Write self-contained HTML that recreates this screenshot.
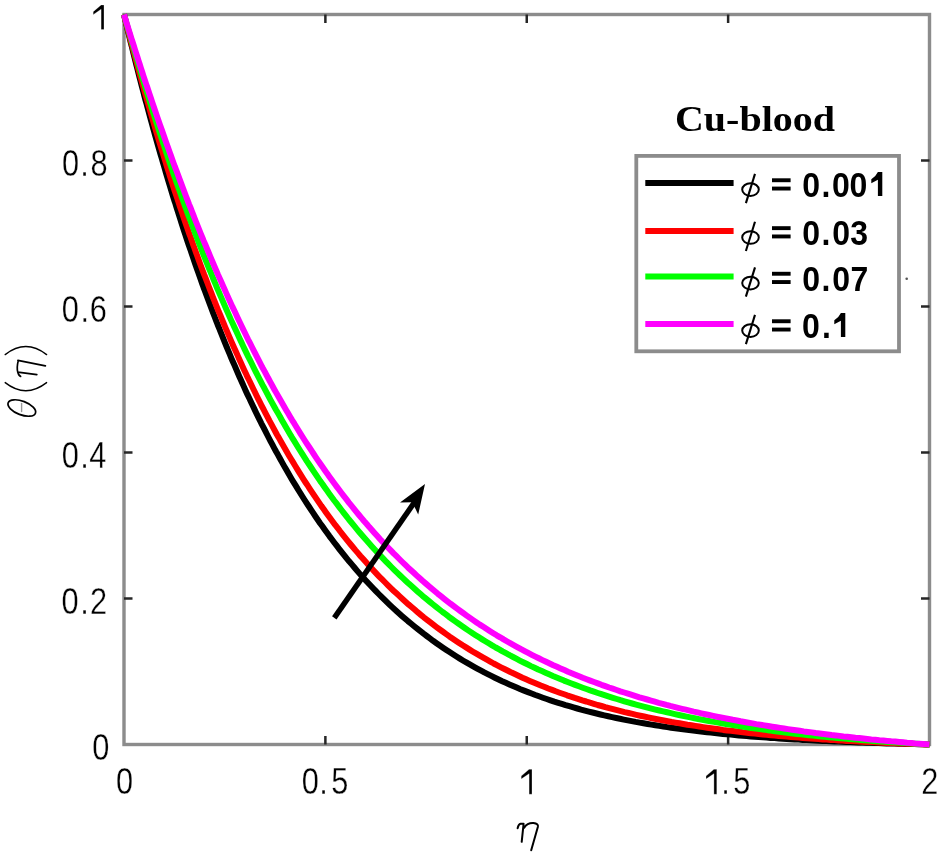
<!DOCTYPE html>
<html><head><meta charset="utf-8"><style>
html,body{margin:0;padding:0;background:#fff;}
body{width:944px;height:858px;overflow:hidden;}
svg{display:block;will-change:transform;}
text{font-family:"Liberation Sans",sans-serif;}
.tl{font-size:32px;fill:#000;stroke:#fff;stroke-width:0.3px;paint-order:fill;}
.phi{font-family:"Liberation Serif",serif;font-style:italic;font-size:34px;fill:#000;}
.lv{font-family:"Liberation Sans",sans-serif;font-weight:bold;font-size:32px;fill:#000;}
.ttl{font-family:"Liberation Serif",serif;font-weight:bold;font-size:36px;fill:#000;}
.lab{font-family:"Liberation Serif",serif;font-style:italic;font-size:42px;fill:#000;}
.labr{font-family:"Liberation Serif",serif;font-size:42px;fill:#000;}
</style></head><body>
<svg width="944" height="858" viewBox="0 0 944 858">
<rect width="944" height="858" fill="#fff"/>
<rect x="124.0" y="14.5" width="805.5" height="730.0" fill="none" stroke="#8c8c8c" stroke-width="3.4"/>
<g stroke="#262626" stroke-width="2.5"><line x1="325.38" y1="744.5" x2="325.38" y2="736.0"/><line x1="325.38" y1="14.5" x2="325.38" y2="23.0"/><line x1="526.75" y1="744.5" x2="526.75" y2="736.0"/><line x1="526.75" y1="14.5" x2="526.75" y2="23.0"/><line x1="728.12" y1="744.5" x2="728.12" y2="736.0"/><line x1="728.12" y1="14.5" x2="728.12" y2="23.0"/><line x1="124.0" y1="598.5" x2="132.5" y2="598.5"/><line x1="929.5" y1="598.5" x2="921.0" y2="598.5"/><line x1="124.0" y1="452.5" x2="132.5" y2="452.5"/><line x1="929.5" y1="452.5" x2="921.0" y2="452.5"/><line x1="124.0" y1="306.5" x2="132.5" y2="306.5"/><line x1="929.5" y1="306.5" x2="921.0" y2="306.5"/><line x1="124.0" y1="160.5" x2="132.5" y2="160.5"/><line x1="929.5" y1="160.5" x2="921.0" y2="160.5"/></g>
<g fill="none" stroke-width="6" stroke-linejoin="round" stroke-linecap="butt"><path d="M124.0,14.5 L125.0,18.7 L126.0,22.9 L126.8,26.3 L127.8,30.5 L128.8,34.6 L129.6,37.9 L130.6,42.0 L131.7,46.1 L132.7,50.2 L133.5,53.4 L134.5,57.4 L135.5,61.4 L136.5,65.4 L137.5,69.3 L138.5,73.3 L139.5,77.2 L140.5,81.1 L141.5,85.0 L142.5,88.8 L143.5,92.6 L144.5,96.5 L145.5,100.2 L146.6,104.0 L147.6,107.8 L148.6,111.5 L149.8,115.9 L150.8,119.6 L151.8,123.3 L152.8,126.9 L154.0,131.3 L155.0,134.9 L156.0,138.5 L157.2,142.7 L158.2,146.3 L159.4,150.5 L160.4,154.0 L161.7,158.2 L162.7,161.6 L163.9,165.8 L164.9,169.2 L166.1,173.3 L167.3,177.3 L168.5,181.3 L169.5,184.7 L170.7,188.6 L171.9,192.6 L173.1,196.5 L174.3,200.4 L175.4,203.6 L176.6,207.5 L177.8,211.3 L179.0,215.1 L180.2,218.9 L181.6,223.3 L182.8,227.0 L184.0,230.7 L185.2,234.4 L186.4,238.0 L187.8,242.2 L189.0,245.8 L190.3,249.4 L191.7,253.6 L192.9,257.1 L194.3,261.2 L195.5,264.7 L196.9,268.7 L198.1,272.1 L199.5,276.1 L200.9,280.0 L202.1,283.4 L203.5,287.3 L205.0,291.1 L206.4,294.9 L207.8,298.7 L209.2,302.5 L210.6,306.2 L212.0,310.0 L213.4,313.6 L214.8,317.3 L216.2,320.9 L217.6,324.5 L219.3,328.6 L220.7,332.1 L222.1,335.6 L223.7,339.6 L225.1,343.1 L226.7,347.0 L228.1,350.4 L229.7,354.2 L231.3,358.1 L232.9,361.8 L234.4,365.1 L236.0,368.8 L237.6,372.5 L239.2,376.2 L240.8,379.8 L242.6,383.8 L244.2,387.4 L245.8,390.9 L247.4,394.4 L249.3,398.3 L250.9,401.7 L252.7,405.5 L254.3,408.9 L256.1,412.7 L257.9,416.4 L259.5,419.6 L261.3,423.3 L263.2,426.9 L265.0,430.4 L266.8,434.0 L268.6,437.5 L270.6,441.3 L272.4,444.7 L274.2,448.1 L276.2,451.8 L278.1,455.1 L280.1,458.8 L282.1,462.4 L283.9,465.6 L285.9,469.1 L287.9,472.6 L289.9,476.0 L291.9,479.4 L294.0,482.8 L296.2,486.4 L298.2,489.7 L300.4,493.3 L302.4,496.5 L304.6,500.0 L306.8,503.4 L308.9,506.5 L311.1,509.9 L313.3,513.2 L315.5,516.5 L317.9,520.0 L320.1,523.2 L322.4,526.3 L324.8,529.7 L327.2,533.0 L329.4,536.1 L331.8,539.3 L334.2,542.5 L336.7,545.7 L339.1,548.8 L341.7,552.1 L344.1,555.1 L346.7,558.4 L349.1,561.3 L351.8,564.4 L354.4,567.5 L357.0,570.6 L359.6,573.6 L362.2,576.5 L364.8,579.4 L367.7,582.5 L370.3,585.3 L373.1,588.3 L375.9,591.2 L378.7,594.0 L381.6,596.9 L384.4,599.7 L387.2,602.4 L390.0,605.1 L393.0,607.9 L396.1,610.7 L398.9,613.2 L401.9,615.9 L404.9,618.5 L407.9,621.1 L411.2,623.8 L414.2,626.3 L417.2,628.7 L420.4,631.2 L423.6,633.7 L426.7,636.0 L429.9,638.4 L433.1,640.8 L436.5,643.2 L439.8,645.5 L443.0,647.7 L446.4,650.0 L449.6,652.1 L453.0,654.3 L456.5,656.5 L459.9,658.6 L463.3,660.7 L466.7,662.7 L470.2,664.7 L473.6,666.6 L477.2,668.6 L480.6,670.4 L484.3,672.4 L487.7,674.1 L491.3,675.9 L494.9,677.7 L498.6,679.5 L502.2,681.2 L505.8,682.8 L509.4,684.4 L513.1,686.0 L516.7,687.6 L520.5,689.2 L524.1,690.6 L528.0,692.1 L531.6,693.5 L535.4,695.0 L539.0,696.3 L542.9,697.7 L546.7,699.0 L550.5,700.3 L554.3,701.6 L558.2,702.8 L561.8,703.9 L565.6,705.1 L569.4,706.2 L573.5,707.4 L577.3,708.5 L581.1,709.6 L584.9,710.6 L588.8,711.6 L592.6,712.5 L596.6,713.5 L600.5,714.5 L604.3,715.4 L608.3,716.3 L612.1,717.1 L616.2,718.0 L620.0,718.8 L623.8,719.6 L627.8,720.4 L631.7,721.1 L635.7,721.9 L639.7,722.6 L643.5,723.3 L647.6,724.0 L651.4,724.6 L655.4,725.3 L659.3,725.9 L663.3,726.5 L667.3,727.1 L671.1,727.7 L675.2,728.2 L679.2,728.8 L683.0,729.3 L687.0,729.8 L691.1,730.3 L695.1,730.8 L698.9,731.3 L703.0,731.8 L707.0,732.2 L710.8,732.6 L714.8,733.1 L718.9,733.5 L722.9,733.9 L726.9,734.3 L730.7,734.6 L734.8,735.0 L738.8,735.4 L742.8,735.7 L746.7,736.0 L750.7,736.4 L754.7,736.7 L758.7,737.0 L762.8,737.3 L766.6,737.6 L770.6,737.9 L774.6,738.1 L778.7,738.4 L782.7,738.7 L786.7,738.9 L790.6,739.2 L794.6,739.4 L798.6,739.6 L802.6,739.9 L806.7,740.1 L810.7,740.3 L814.5,740.5 L818.5,740.7 L822.6,740.9 L826.6,741.1 L830.6,741.3 L834.7,741.5 L838.5,741.6 L842.5,741.8 L846.5,742.0 L850.6,742.1 L854.6,742.3 L858.6,742.4 L862.6,742.6 L866.5,742.7 L870.5,742.8 L874.5,743.0 L878.6,743.1 L882.6,743.2 L886.6,743.4 L890.6,743.5 L894.5,743.6 L898.5,743.7 L902.5,743.8 L906.5,743.9 L910.6,744.0 L914.6,744.1 L918.4,744.2 L922.5,744.3 L926.5,744.4 L929.5,744.5" stroke="#000"/><path d="M124.0,14.5 L125.0,18.4 L126.0,22.4 L127.0,26.3 L128.0,30.2 L129.0,34.0 L130.0,37.9 L131.0,41.7 L132.1,45.5 L133.3,50.0 L134.3,53.8 L135.3,57.6 L136.3,61.3 L137.3,65.0 L138.3,68.7 L139.5,73.1 L140.5,76.8 L141.5,80.4 L142.7,84.7 L143.7,88.3 L144.7,91.9 L145.9,96.2 L147.0,99.7 L148.2,104.0 L149.2,107.5 L150.4,111.7 L151.4,115.1 L152.6,119.3 L153.6,122.7 L154.8,126.8 L156.0,130.8 L157.0,134.2 L158.2,138.2 L159.4,142.2 L160.4,145.5 L161.7,149.5 L162.9,153.4 L164.1,157.3 L165.3,161.2 L166.5,165.1 L167.7,168.9 L168.9,172.7 L170.1,176.5 L171.3,180.3 L172.5,184.0 L173.7,187.8 L174.9,191.5 L176.2,195.2 L177.6,199.4 L178.8,203.1 L180.0,206.7 L181.4,210.8 L182.6,214.4 L183.8,218.0 L185.2,222.1 L186.4,225.6 L187.8,229.6 L189.0,233.1 L190.5,237.0 L191.9,241.0 L193.1,244.4 L194.5,248.3 L195.9,252.2 L197.3,256.1 L198.5,259.4 L199.9,263.2 L201.3,267.0 L202.7,270.7 L204.1,274.4 L205.6,278.1 L207.0,281.8 L208.6,286.0 L210.0,289.6 L211.4,293.2 L212.8,296.8 L214.4,300.8 L215.8,304.3 L217.2,307.8 L218.8,311.8 L220.3,315.2 L221.9,319.1 L223.5,323.0 L224.9,326.3 L226.5,330.1 L228.1,333.9 L229.7,337.6 L231.3,341.4 L232.9,345.0 L234.6,348.7 L236.2,352.3 L237.8,355.9 L239.4,359.5 L241.0,363.0 L242.8,366.9 L244.4,370.4 L246.0,373.8 L247.8,377.7 L249.5,381.0 L251.3,384.8 L253.1,388.5 L254.7,391.8 L256.5,395.5 L258.3,399.1 L260.1,402.7 L261.9,406.3 L263.8,409.8 L265.6,413.3 L267.6,417.1 L269.4,420.6 L271.2,423.9 L273.2,427.7 L275.0,431.0 L277.0,434.7 L278.9,437.9 L280.9,441.5 L282.9,445.0 L284.9,448.5 L286.9,452.0 L288.9,455.4 L290.9,458.8 L293.0,462.2 L295.0,465.5 L297.2,469.1 L299.2,472.4 L301.4,475.9 L303.4,479.1 L305.6,482.5 L307.9,485.9 L310.1,489.3 L312.3,492.6 L314.5,495.9 L316.7,499.2 L318.9,502.4 L321.3,505.9 L323.6,509.0 L326.0,512.4 L328.4,515.7 L330.6,518.7 L333.0,522.0 L335.4,525.2 L337.9,528.3 L340.3,531.5 L342.9,534.8 L345.3,537.8 L347.7,540.8 L350.3,544.0 L353.0,547.2 L355.4,550.1 L358.0,553.1 L360.6,556.2 L363.2,559.1 L366.1,562.3 L368.7,565.2 L371.3,568.1 L374.1,571.1 L376.9,574.1 L379.5,576.8 L382.4,579.7 L385.2,582.5 L388.0,585.3 L390.8,588.1 L393.8,591.0 L396.7,593.6 L399.7,596.4 L402.5,599.0 L405.5,601.7 L408.5,604.4 L411.6,607.0 L414.6,609.6 L417.6,612.2 L420.8,614.8 L423.8,617.3 L427.1,619.8 L430.1,622.2 L433.3,624.7 L436.5,627.1 L439.8,629.5 L443.0,631.8 L446.2,634.1 L449.4,636.4 L452.8,638.7 L456.1,640.9 L459.5,643.2 L462.7,645.3 L466.1,647.4 L469.6,649.6 L473.0,651.7 L476.4,653.7 L479.8,655.7 L483.3,657.7 L486.9,659.7 L490.3,661.6 L493.7,663.5 L497.3,665.4 L501.0,667.3 L504.4,669.0 L508.0,670.8 L511.6,672.6 L515.3,674.3 L518.9,676.0 L522.5,677.7 L526.1,679.3 L529.8,680.9 L533.6,682.5 L537.2,684.0 L540.8,685.5 L544.7,687.0 L548.3,688.5 L552.1,689.9 L555.7,691.3 L559.6,692.7 L563.4,694.0 L567.0,695.3 L570.9,696.6 L574.7,697.9 L578.5,699.1 L582.3,700.4 L586.2,701.5 L590.0,702.7 L593.8,703.8 L597.6,705.0 L601.5,706.0 L605.3,707.1 L609.1,708.1 L613.1,709.2 L617.0,710.2 L620.8,711.1 L624.6,712.1 L628.6,713.0 L632.5,713.9 L636.3,714.8 L640.3,715.7 L644.2,716.5 L648.2,717.4 L652.0,718.2 L656.0,719.0 L659.9,719.7 L663.9,720.5 L667.7,721.2 L671.7,722.0 L675.6,722.6 L679.6,723.3 L683.4,724.0 L687.4,724.7 L691.5,725.3 L695.3,725.9 L699.3,726.5 L703.2,727.1 L707.2,727.7 L711.2,728.3 L715.0,728.8 L719.1,729.3 L723.1,729.9 L727.1,730.4 L730.9,730.8 L735.0,731.3 L739.0,731.8 L742.8,732.3 L746.9,732.7 L750.9,733.2 L754.9,733.6 L758.7,734.0 L762.8,734.4 L766.8,734.8 L770.8,735.2 L774.6,735.5 L778.7,735.9 L782.7,736.3 L786.7,736.6 L790.8,737.0 L794.6,737.3 L798.6,737.6 L802.6,737.9 L806.7,738.2 L810.7,738.5 L814.5,738.8 L818.5,739.1 L822.6,739.4 L826.6,739.6 L830.6,739.9 L834.7,740.1 L838.5,740.4 L842.5,740.6 L846.5,740.9 L850.6,741.1 L854.6,741.3 L858.6,741.5 L862.4,741.7 L866.5,741.9 L870.5,742.1 L874.5,742.3 L878.6,742.5 L882.6,742.7 L886.4,742.9 L890.4,743.0 L894.5,743.2 L898.5,743.4 L902.5,743.5 L906.5,743.7 L910.6,743.8 L914.4,744.0 L918.4,744.1 L922.5,744.3 L926.5,744.4 L929.5,744.5" stroke="#f00"/><path d="M124.0,14.5 L125.2,18.8 L126.2,22.3 L127.4,26.6 L128.4,30.1 L129.6,34.3 L130.6,37.8 L131.9,42.0 L132.9,45.5 L134.1,49.6 L135.1,53.0 L136.3,57.1 L137.5,61.2 L138.5,64.6 L139.7,68.6 L140.9,72.6 L141.9,76.0 L143.1,80.0 L144.3,83.9 L145.5,87.9 L146.8,91.8 L148.0,95.7 L149.0,98.9 L150.2,102.8 L151.4,106.6 L152.6,110.5 L153.8,114.3 L155.0,118.1 L156.2,121.8 L157.6,126.2 L158.8,129.9 L160.0,133.6 L161.3,137.3 L162.5,141.0 L163.7,144.6 L165.1,148.9 L166.3,152.5 L167.5,156.1 L168.9,160.2 L170.1,163.8 L171.5,167.9 L172.7,171.4 L174.1,175.5 L175.4,178.9 L176.8,182.9 L178.0,186.4 L179.4,190.3 L180.8,194.3 L182.0,197.7 L183.4,201.6 L184.8,205.4 L186.2,209.3 L187.4,212.6 L188.8,216.4 L190.3,220.2 L191.7,223.9 L193.1,227.7 L194.5,231.4 L195.9,235.1 L197.3,238.8 L198.9,242.9 L200.3,246.5 L201.7,250.1 L203.1,253.7 L204.8,257.8 L206.2,261.3 L207.6,264.8 L209.2,268.8 L210.6,272.2 L212.2,276.1 L213.8,280.0 L215.2,283.4 L216.8,287.3 L218.4,291.1 L219.9,294.4 L221.5,298.1 L223.1,301.9 L224.7,305.6 L226.3,309.2 L227.9,312.9 L229.5,316.5 L231.1,320.1 L232.7,323.6 L234.6,327.6 L236.2,331.1 L237.8,334.6 L239.6,338.5 L241.2,341.9 L243.0,345.7 L244.6,349.1 L246.4,352.9 L248.2,356.6 L249.9,359.9 L251.7,363.5 L253.5,367.2 L255.3,370.8 L257.1,374.4 L258.9,377.9 L260.7,381.4 L262.5,384.9 L264.4,388.3 L266.4,392.1 L268.2,395.5 L270.2,399.3 L272.0,402.6 L274.0,406.2 L275.8,409.5 L277.9,413.1 L279.9,416.6 L281.9,420.2 L283.7,423.3 L285.7,426.8 L287.9,430.5 L289.9,433.9 L291.9,437.3 L294.0,440.6 L296.2,444.2 L298.2,447.5 L300.4,451.0 L302.4,454.2 L304.6,457.6 L306.8,461.1 L309.1,464.5 L311.1,467.5 L313.5,471.1 L315.7,474.4 L317.9,477.7 L320.1,480.9 L322.4,484.0 L324.8,487.5 L327.0,490.6 L329.4,493.9 L331.8,497.2 L334.2,500.5 L336.7,503.7 L339.1,506.9 L341.5,510.0 L343.9,513.1 L346.3,516.2 L348.9,519.5 L351.4,522.5 L354.0,525.7 L356.4,528.6 L359.0,531.7 L361.6,534.8 L364.2,537.8 L366.9,540.8 L369.5,543.7 L372.1,546.7 L374.9,549.8 L377.5,552.6 L380.4,555.6 L383.0,558.4 L385.8,561.3 L388.6,564.2 L391.4,567.0 L394.2,569.8 L397.1,572.6 L400.1,575.5 L402.9,578.2 L405.9,581.0 L408.7,583.6 L411.8,586.3 L414.8,589.0 L417.8,591.7 L420.8,594.3 L423.8,596.9 L426.9,599.4 L429.9,601.9 L433.1,604.5 L436.1,606.9 L439.4,609.5 L442.6,612.0 L445.6,614.2 L448.8,616.7 L452.0,619.0 L455.3,621.4 L458.7,623.8 L461.9,626.0 L465.1,628.2 L468.6,630.6 L471.8,632.7 L475.2,634.9 L478.6,637.1 L481.8,639.1 L485.3,641.2 L488.7,643.3 L492.1,645.4 L495.7,647.5 L499.2,649.4 L502.6,651.4 L506.0,653.2 L509.6,655.2 L513.1,657.0 L516.7,658.9 L520.3,660.8 L523.7,662.5 L527.4,664.3 L531.0,666.1 L534.6,667.8 L538.2,669.5 L541.9,671.1 L545.5,672.7 L549.1,674.3 L552.9,676.0 L556.6,677.5 L560.2,679.0 L564.0,680.6 L567.6,682.0 L571.5,683.5 L575.1,684.9 L578.9,686.3 L582.7,687.7 L586.4,689.0 L590.2,690.4 L594.0,691.7 L597.8,693.0 L601.5,694.2 L605.3,695.4 L609.1,696.6 L612.9,697.8 L616.8,699.0 L620.6,700.2 L624.4,701.3 L628.2,702.4 L632.1,703.5 L636.1,704.6 L639.9,705.6 L643.7,706.6 L647.6,707.6 L651.4,708.6 L655.4,709.6 L659.3,710.5 L663.1,711.4 L667.1,712.3 L670.9,713.2 L674.8,714.1 L678.8,715.0 L682.6,715.8 L686.6,716.6 L690.5,717.4 L694.5,718.2 L698.3,719.0 L702.3,719.7 L706.2,720.5 L710.2,721.2 L714.0,721.9 L718.1,722.6 L721.9,723.3 L725.9,724.0 L729.9,724.6 L733.8,725.2 L737.8,725.9 L741.6,726.5 L745.6,727.1 L749.7,727.7 L753.5,728.3 L757.5,728.8 L761.6,729.4 L765.4,729.9 L769.4,730.4 L773.4,731.0 L777.3,731.5 L781.3,732.0 L785.3,732.5 L789.3,732.9 L793.2,733.4 L797.2,733.9 L801.2,734.3 L805.3,734.8 L809.1,735.2 L813.1,735.6 L817.1,736.0 L821.2,736.4 L825.0,736.8 L829.0,737.2 L833.0,737.6 L837.1,737.9 L840.9,738.3 L844.9,738.6 L849.0,739.0 L853.0,739.3 L857.0,739.6 L860.8,740.0 L864.9,740.3 L868.9,740.6 L872.9,740.9 L876.9,741.2 L880.8,741.5 L884.8,741.7 L888.8,742.0 L892.8,742.3 L896.9,742.6 L900.9,742.8 L904.7,743.1 L908.8,743.3 L912.8,743.6 L916.8,743.8 L920.8,744.0 L924.9,744.2 L928.7,744.5 L929.5,744.5" stroke="#0f0"/><path d="M124.0,14.5 L125.2,18.4 L126.4,22.3 L127.6,26.2 L128.8,30.1 L130.0,34.0 L131.2,37.8 L132.5,41.7 L133.7,45.5 L134.9,49.3 L136.1,53.1 L137.3,56.8 L138.5,60.6 L139.7,64.3 L140.9,68.1 L142.1,71.8 L143.5,76.1 L144.7,79.8 L145.9,83.4 L147.2,87.1 L148.4,90.7 L149.8,94.9 L151.0,98.5 L152.2,102.1 L153.6,106.3 L154.8,109.8 L156.2,113.9 L157.4,117.4 L158.8,121.5 L160.0,125.0 L161.5,129.1 L162.7,132.5 L164.1,136.5 L165.3,139.9 L166.7,143.9 L168.1,147.8 L169.3,151.2 L170.7,155.1 L172.1,159.0 L173.5,162.9 L174.9,166.7 L176.2,170.0 L177.6,173.8 L179.0,177.6 L180.4,181.4 L181.8,185.1 L183.2,188.8 L184.6,192.5 L186.0,196.2 L187.6,200.4 L189.0,204.1 L190.5,207.7 L191.9,211.3 L193.3,214.9 L194.9,219.0 L196.3,222.5 L197.7,226.0 L199.3,230.0 L200.7,233.5 L202.3,237.4 L203.7,240.9 L205.4,244.8 L206.8,248.2 L208.4,252.0 L210.0,255.9 L211.6,259.7 L213.0,263.0 L214.6,266.7 L216.2,270.5 L217.8,274.2 L219.5,277.9 L221.1,281.5 L222.7,285.2 L224.3,288.8 L225.9,292.4 L227.5,295.9 L229.3,299.9 L230.9,303.4 L232.5,306.9 L234.4,310.8 L236.0,314.2 L237.6,317.7 L239.4,321.5 L241.2,325.3 L242.8,328.6 L244.6,332.3 L246.4,336.0 L248.0,339.3 L249.9,342.9 L251.7,346.5 L253.5,350.1 L255.3,353.7 L257.1,357.2 L258.9,360.7 L260.9,364.6 L262.7,368.0 L264.6,371.4 L266.4,374.8 L268.4,378.5 L270.2,381.9 L272.2,385.5 L274.2,389.2 L276.0,392.4 L278.1,396.0 L280.1,399.5 L282.1,403.0 L284.1,406.5 L286.1,409.9 L288.1,413.3 L290.1,416.7 L292.1,420.1 L294.4,423.7 L296.4,427.0 L298.4,430.3 L300.6,433.8 L302.6,437.0 L304.8,440.5 L307.0,443.9 L309.3,447.3 L311.5,450.7 L313.7,454.0 L315.9,457.3 L318.1,460.6 L320.3,463.8 L322.6,467.0 L325.0,470.4 L327.2,473.6 L329.6,476.9 L332.0,480.3 L334.2,483.3 L336.7,486.6 L339.1,489.8 L341.5,493.0 L343.9,496.1 L346.3,499.2 L348.9,502.6 L351.4,505.6 L353.8,508.6 L356.4,511.8 L359.0,515.0 L361.4,517.9 L364.0,521.0 L366.7,524.0 L369.3,527.1 L371.9,530.0 L374.5,533.0 L377.3,536.1 L379.9,539.0 L382.6,541.8 L385.4,544.8 L388.2,547.8 L391.0,550.7 L393.6,553.4 L396.5,556.2 L399.3,559.0 L402.3,562.0 L405.1,564.7 L407.9,567.4 L411.0,570.2 L413.8,572.8 L416.8,575.6 L419.8,578.3 L422.8,581.0 L425.9,583.6 L428.9,586.2 L431.9,588.8 L434.9,591.3 L437.9,593.8 L441.2,596.4 L444.2,598.8 L447.4,601.3 L450.6,603.8 L453.9,606.2 L457.1,608.6 L460.3,611.0 L463.5,613.3 L466.7,615.6 L470.0,617.9 L473.2,620.1 L476.6,622.4 L479.8,624.6 L483.3,626.8 L486.7,629.0 L490.1,631.2 L493.3,633.2 L496.7,635.3 L500.2,637.3 L503.6,639.4 L507.2,641.5 L510.6,643.4 L514.1,645.3 L517.7,647.3 L521.1,649.2 L524.7,651.1 L528.2,652.9 L531.8,654.8 L535.4,656.6 L538.8,658.3 L542.5,660.1 L546.1,661.8 L549.7,663.5 L553.3,665.2 L557.0,666.8 L560.6,668.4 L564.4,670.1 L568.0,671.7 L571.7,673.2 L575.3,674.7 L579.1,676.2 L582.7,677.7 L586.6,679.2 L590.2,680.6 L594.0,682.0 L597.8,683.4 L601.5,684.8 L605.3,686.1 L609.1,687.5 L612.7,688.7 L616.6,690.0 L620.4,691.3 L624.2,692.5 L628.0,693.7 L631.9,694.9 L635.7,696.1 L639.5,697.3 L643.3,698.4 L647.2,699.5 L651.0,700.6 L654.8,701.7 L658.7,702.8 L662.7,703.8 L666.5,704.9 L670.3,705.9 L674.2,706.8 L678.0,707.8 L682.0,708.8 L685.8,709.7 L689.7,710.6 L693.7,711.6 L697.5,712.4 L701.3,713.3 L705.4,714.2 L709.2,715.0 L713.2,715.9 L717.0,716.7 L721.1,717.5 L724.9,718.2 L728.9,719.0 L732.8,719.8 L736.8,720.5 L740.6,721.3 L744.6,722.0 L748.5,722.7 L752.5,723.4 L756.3,724.1 L760.3,724.7 L764.4,725.4 L768.2,726.0 L772.2,726.7 L776.1,727.3 L780.1,727.9 L784.1,728.5 L787.9,729.1 L792.0,729.7 L796.0,730.3 L799.8,730.8 L803.8,731.4 L807.9,731.9 L811.7,732.4 L815.7,733.0 L819.8,733.5 L823.6,734.0 L827.6,734.5 L831.6,735.0 L835.7,735.4 L839.5,735.9 L843.5,736.4 L847.5,736.8 L851.4,737.2 L855.4,737.7 L859.4,738.1 L863.4,738.5 L867.3,738.9 L871.3,739.4 L875.3,739.8 L879.4,740.2 L883.4,740.5 L887.2,740.9 L891.2,741.3 L895.3,741.6 L899.3,742.0 L903.1,742.3 L907.1,742.7 L911.2,743.0 L915.2,743.4 L919.2,743.7 L923.1,744.0 L927.1,744.3 L929.5,744.5" stroke="#f0f"/></g>
<g class="tl"><text transform="translate(124.50,794.30) scale(0.96,1.13)" text-anchor="middle">0</text><text transform="translate(310.40,794.30) scale(0.96,1.13)" text-anchor="middle">0</text><text transform="translate(323.45,794.30) scale(0.96,1.13)" text-anchor="middle">.</text><text transform="translate(339.85,794.30) scale(0.96,1.13)" text-anchor="middle">5</text><path d="M529.1,769.3 L532.0,769.3 L532.0,794.3 L529.1,794.3 L529.1,773.7 L521.2,779.1 L521.2,776.1 Z"/><path d="M713.9,769.3 L716.8,769.3 L716.8,794.3 L713.9,794.3 L713.9,773.7 L706.0,779.1 L706.0,776.1 Z"/><text transform="translate(725.45,794.30) scale(0.96,1.13)" text-anchor="middle">.</text><text transform="translate(741.80,794.30) scale(0.96,1.13)" text-anchor="middle">5</text><text transform="translate(929.90,794.30) scale(0.96,1.13)" text-anchor="middle">2</text><path d="M101.1,4.9 L104.0,4.9 L104.0,29.6 L101.1,29.6 L101.1,9.3 L93.2,14.7 L93.2,11.7 Z"/><text transform="translate(70.45,175.60) scale(0.96,1.13)" text-anchor="middle">0</text><text transform="translate(84.50,175.60) scale(0.96,1.13)" text-anchor="middle">.</text><text transform="translate(99.05,175.60) scale(0.96,1.13)" text-anchor="middle">8</text><text transform="translate(70.20,321.60) scale(0.96,1.13)" text-anchor="middle">0</text><text transform="translate(84.80,321.60) scale(0.96,1.13)" text-anchor="middle">.</text><text transform="translate(98.20,321.60) scale(0.96,1.13)" text-anchor="middle">6</text><text transform="translate(70.25,467.60) scale(0.96,1.13)" text-anchor="middle">0</text><text transform="translate(84.55,467.60) scale(0.96,1.13)" text-anchor="middle">.</text><text transform="translate(97.75,467.60) scale(0.96,1.13)" text-anchor="middle">4</text><text transform="translate(70.00,613.60) scale(0.96,1.13)" text-anchor="middle">0</text><text transform="translate(84.50,613.60) scale(0.96,1.13)" text-anchor="middle">.</text><text transform="translate(98.60,613.60) scale(0.96,1.13)" text-anchor="middle">2</text><text transform="translate(100.75,759.60) scale(0.96,1.13)" text-anchor="middle">0</text></g>
<g fill="none" stroke="#000" stroke-width="2.0" stroke-linecap="round" stroke-linejoin="round">
<path d="M517.6,828.2 Q518.6,824 520.5,823.7 L523.6,823.7 L521.7,841.8 M524.2,827.6 Q527.5,822.6 533.5,823 Q538.6,823.6 537.9,826.8 L531.2,850.2"/>
<path d="M5.2,354.6 Q25.8,338.5 46.6,354.6 M5.2,382.6 Q25.8,398.8 46.6,382.6" stroke-width="1.4"/>
<path d="M17.9,360.4 L45.4,365.8 M18.2,360.9 Q16.5,368 17.8,372.2 L36.8,374.6 M17.8,372.2 Q18.5,375.6 20.6,376.4" stroke-width="1.7"/>
<ellipse cx="21.8" cy="408" rx="14.6" ry="6.8" transform="rotate(21 21.8 408)" stroke-width="1.7"/>
<path d="M21.6,403.5 L21.6,411.5" stroke="#999" stroke-width="1.4"/>
</g>
<text class="ttl" x="675" y="131.2" textLength="160" lengthAdjust="spacingAndGlyphs">Cu-blood</text>
<rect x="636.3" y="155.9" width="262.7" height="195.4" fill="#fff" stroke="#8c8c8c" stroke-width="3.8"/>
<line x1="645.3" y1="183.1" x2="733.6" y2="183.1" stroke="#000" stroke-width="6"/><g transform="translate(0,0.0)"><ellipse cx="750.5" cy="189.6" rx="8.3" ry="6.3" fill="none" stroke="#000" stroke-width="2"/><line x1="755" y1="173.9" x2="745.9" y2="203.1" stroke="#000" stroke-width="2.1"/><rect x="772" y="178.3" width="18.6" height="3.9"/><rect x="772" y="186.6" width="18.6" height="3.9"/></g><text class="lv" text-anchor="middle" transform="translate(811.1,197.3) scale(1.0,1.11)">0</text><text class="lv" text-anchor="middle" transform="translate(826.0,197.3) scale(1.0,1.11)">.</text><text class="lv" text-anchor="middle" transform="translate(841.0,197.3) scale(1.0,1.11)">0</text><text class="lv" text-anchor="middle" transform="translate(858.5,197.3) scale(1.0,1.11)">0</text><path d="M877.9,172.1 L882.3,172.1 L882.3,196.1 L877.9,196.1 L877.9,179.7 L871.3,183.3 L871.3,179.3 Q875.8,176.6 877.9,172.1 Z"/><line x1="645.3" y1="231" x2="733.6" y2="231" stroke="#f00" stroke-width="6"/><g transform="translate(0,47.9)"><ellipse cx="750.5" cy="189.6" rx="8.3" ry="6.3" fill="none" stroke="#000" stroke-width="2"/><line x1="755" y1="173.9" x2="745.9" y2="203.1" stroke="#000" stroke-width="2.1"/><rect x="772" y="178.3" width="18.6" height="3.9"/><rect x="772" y="186.6" width="18.6" height="3.9"/></g><text class="lv" text-anchor="middle" transform="translate(811.1,245.2) scale(1.0,1.11)">0</text><text class="lv" text-anchor="middle" transform="translate(826.0,245.2) scale(1.0,1.11)">.</text><text class="lv" text-anchor="middle" transform="translate(841.2,245.2) scale(1.0,1.11)">0</text><text class="lv" text-anchor="middle" transform="translate(859.2,245.2) scale(1.0,1.11)">3</text><line x1="645.3" y1="276.6" x2="733.6" y2="276.6" stroke="#0f0" stroke-width="6"/><g transform="translate(0,93.5)"><ellipse cx="750.5" cy="189.6" rx="8.3" ry="6.3" fill="none" stroke="#000" stroke-width="2"/><line x1="755" y1="173.9" x2="745.9" y2="203.1" stroke="#000" stroke-width="2.1"/><rect x="772" y="178.3" width="18.6" height="3.9"/><rect x="772" y="186.6" width="18.6" height="3.9"/></g><text class="lv" text-anchor="middle" transform="translate(811.1,290.8) scale(1.0,1.11)">0</text><text class="lv" text-anchor="middle" transform="translate(826.0,290.8) scale(1.0,1.11)">.</text><text class="lv" text-anchor="middle" transform="translate(841.2,290.8) scale(1.0,1.11)">0</text><text class="lv" text-anchor="middle" transform="translate(859.3,290.8) scale(1.0,1.11)">7</text><line x1="645.3" y1="324.1" x2="733.6" y2="324.1" stroke="#f0f" stroke-width="6"/><g transform="translate(0,141.0)"><ellipse cx="750.5" cy="189.6" rx="8.3" ry="6.3" fill="none" stroke="#000" stroke-width="2"/><line x1="755" y1="173.9" x2="745.9" y2="203.1" stroke="#000" stroke-width="2.1"/><rect x="772" y="178.3" width="18.6" height="3.9"/><rect x="772" y="186.6" width="18.6" height="3.9"/></g><text class="lv" text-anchor="middle" transform="translate(810.9,338.3) scale(1.0,1.11)">0</text><text class="lv" text-anchor="middle" transform="translate(826.4,338.3) scale(1.0,1.11)">.</text><path d="M840.9,313.1 L845.3,313.1 L845.3,337.1 L840.9,337.1 L840.9,320.7 L834.3,324.3 L834.3,320.3 Q838.8,317.6 840.9,313.1 Z"/>
<circle cx="906.7" cy="278.8" r="1.3" fill="#555"/>
<line x1="334.3" y1="617.9" x2="416.3" y2="499.6" stroke="#000" stroke-width="5.4"/>
<path d="M425,484 L400,502.6 L412.3,502.2 L418.2,514.6 Z" fill="#000"/>
</svg>
</body></html>
